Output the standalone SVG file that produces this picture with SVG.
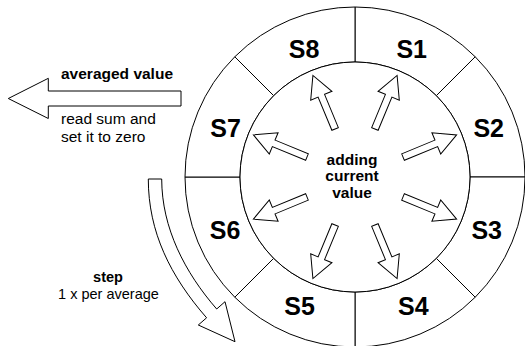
<svg xmlns="http://www.w3.org/2000/svg" width="525" height="346" viewBox="0 0 525 346">
<defs>
<style>
.ln{fill:#fff;stroke:#000;stroke-width:1}
.lbl{font-family:"Liberation Sans",Arial,sans-serif;font-weight:bold;font-size:25px;text-anchor:middle;fill:#000}
.t{font-family:"Liberation Sans",Arial,sans-serif;font-size:15.5px;fill:#000}
.s{font-size:14.5px}
.b{font-weight:bold}
.m{text-anchor:middle}
</style>
<polygon id="sa" points="-3.5,-52 -3.5,-88 -11.5,-88 0,-110 11.5,-88 3.5,-88 3.5,-52" class="ln"/>
</defs>
<rect width="525" height="346" fill="#fff"/>
<g id="S1"><path class="ln" d="M355,7 A170,170 0 0 1 475.21,56.79 L436.32,95.68 A115,115 0 0 0 355,62 Z"/><text class="lbl" x="411.7" y="58">S1</text></g>
<g id="S2"><path class="ln" d="M475.21,56.79 A170,170 0 0 1 525,177 L470,177 A115,115 0 0 0 436.32,95.68 Z"/><text class="lbl" x="488.7" y="137">S2</text></g>
<g id="S3"><path class="ln" d="M525,177 A170,170 0 0 1 475.21,297.21 L436.32,258.32 A115,115 0 0 0 470,177 Z"/><text class="lbl" x="486.7" y="239">S3</text></g>
<g id="S4"><path class="ln" d="M475.21,297.21 A170,170 0 0 1 355,347 L355,292 A115,115 0 0 0 436.32,258.32 Z"/><text class="lbl" x="413.3" y="315">S4</text></g>
<g id="S5"><path class="ln" d="M355,347 A170,170 0 0 1 234.79,297.21 L273.68,258.32 A115,115 0 0 0 355,292 Z"/><text class="lbl" x="299.5" y="315">S5</text></g>
<g id="S6"><path class="ln" d="M234.79,297.21 A170,170 0 0 1 185,177 L240,177 A115,115 0 0 0 273.68,258.32 Z"/><text class="lbl" x="225" y="239">S6</text></g>
<g id="S7"><path class="ln" d="M185,177 A170,170 0 0 1 234.79,56.79 L273.68,95.68 A115,115 0 0 0 240,177 Z"/><text class="lbl" x="225.5" y="137">S7</text></g>
<g id="S8"><path class="ln" d="M234.79,56.79 A170,170 0 0 1 355,7 L355,62 A115,115 0 0 0 273.68,95.68 Z"/><text class="lbl" x="304" y="58">S8</text></g>
<g id="center">
<circle class="ln" cx="355" cy="177" r="115"/>
<text class="t b m" x="352" y="164.5">adding</text>
<text class="t b m" x="352" y="181.3">current</text>
<text class="t b m" x="352" y="198.2">value</text>
</g>
<g id="output">
<text class="t b" x="61" y="79">averaged value</text>
<text class="t" x="61" y="124">read sum and</text>
<text class="t" x="61" y="141.5">set it to zero</text>
</g>
<g id="step">
<text class="t s b m" x="108" y="282">step</text>
<text class="t s m" x="108.5" y="298.5">1 x per average</text>
</g>
<g id="connectors">
<use href="#sa" transform="translate(355,177) rotate(22.5)"/>
<use href="#sa" transform="translate(355,177) rotate(67.5)"/>
<use href="#sa" transform="translate(355,177) rotate(112.5)"/>
<use href="#sa" transform="translate(355,177) rotate(157.5)"/>
<use href="#sa" transform="translate(355,177) rotate(202.5)"/>
<use href="#sa" transform="translate(355,177) rotate(247.5)"/>
<use href="#sa" transform="translate(355,177) rotate(292.5)"/>
<use href="#sa" transform="translate(355,177) rotate(337.5)"/>
<polygon class="ln" points="181,91 48.3,91 48.3,78.3 8.3,98.5 48.3,118.5 48.3,106 181,106"/>
<path class="ln" d="M148.3,179 L161.7,179 C161.7,228 185.1,272.8 216.7,309 L225,301.7 L235,341.7 L198.3,325 L206.6,317.8 C170.4,276.3 148.3,232 148.3,179 Z"/>
</g>
</svg>
